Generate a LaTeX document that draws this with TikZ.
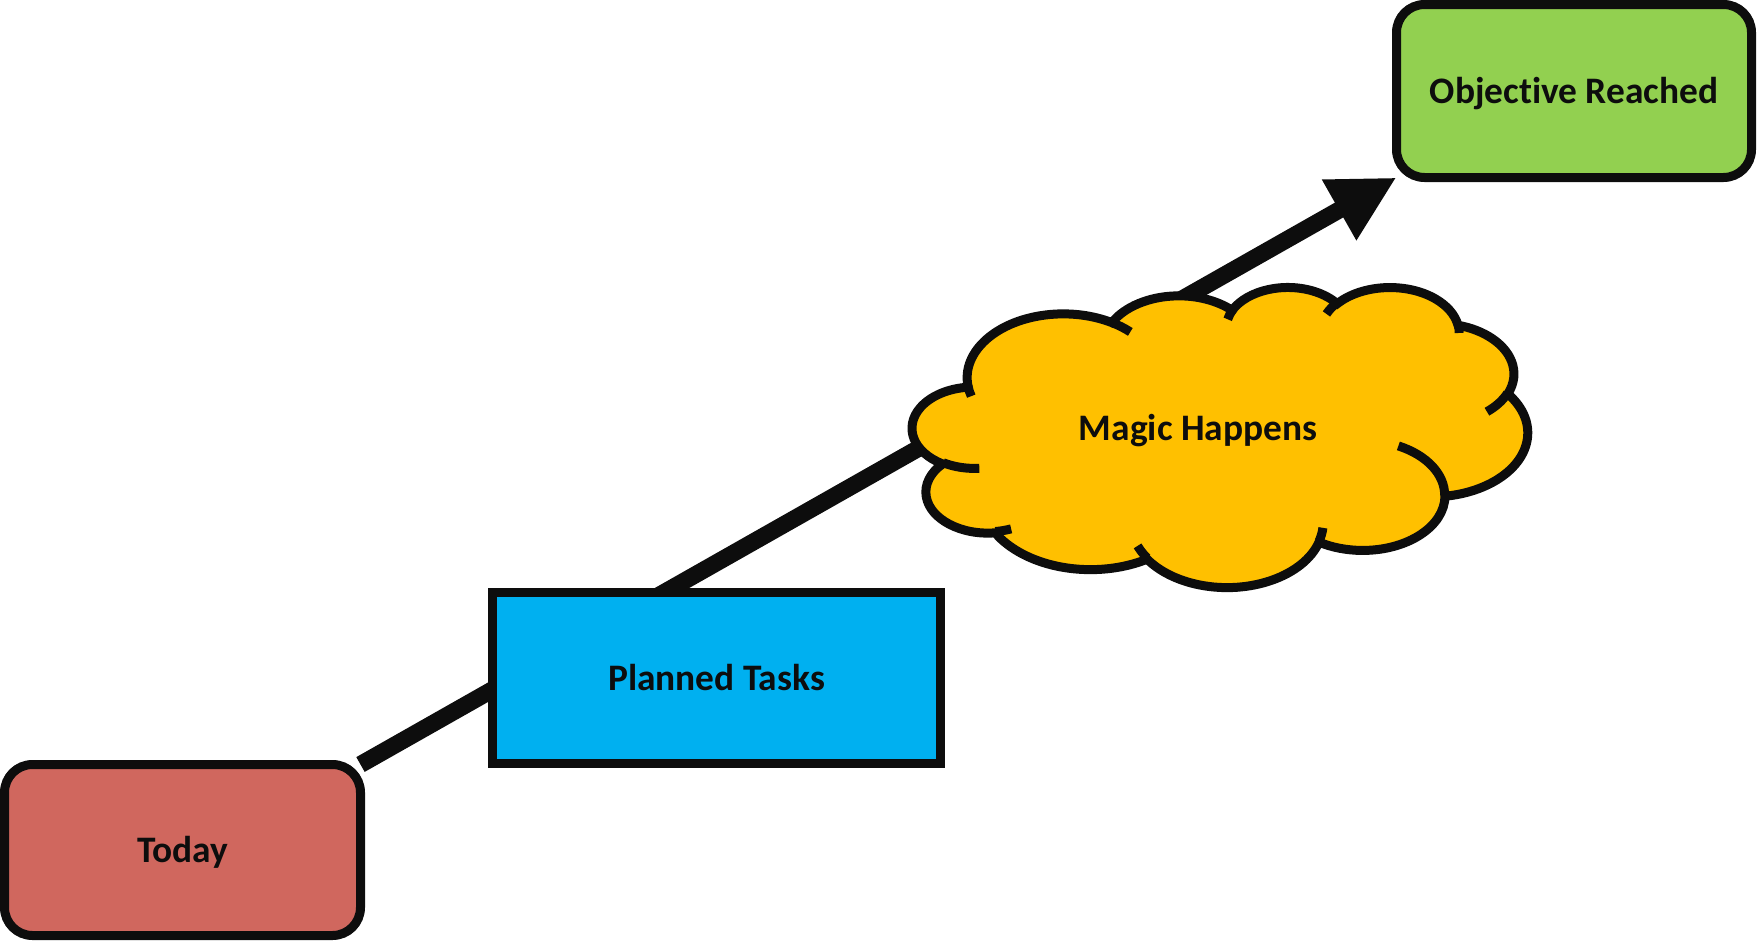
\documentclass[tikz,border=0pt]{standalone}
\usepackage{fontspec}
\setmainfont{Carlito}[Ligatures=CommonOff]
\usetikzlibrary{arrows.meta}
\pgfdeclarelayer{back}
\pgfsetlayers{back,main}
\definecolor{ink}{HTML}{0D0D0D}
\definecolor{todayfill}{RGB}{208,103,94}
\definecolor{planfill}{HTML}{00B0F0}
\definecolor{magicfill}{HTML}{FFC000}
\definecolor{goalfill}{HTML}{92D050}
% visual angle -> parametric angle for an ellipse with radii #1,#2
\pgfmathdeclarefunction{vp}{3}{%
  \begingroup
    \pgfmathparse{atan2((#1)*sin(#3),(#2)*cos(#3))-(#3)}%
    \let\vpdiff\pgfmathresult
    \pgfmathparse{(#3)+\vpdiff-360*round(\vpdiff/360)}%
    \pgfmathsmuggle\pgfmathresult
  \endgroup}
\newcommand\oarc[4]{arc[x radius=#1, y radius=#2, start angle={vp(#1,#2,#3)}, end angle={vp(#1,#2,(#3)+(#4))}]}
\tikzset{
  box/.style={rectangle, draw=ink, line width=4.5pt, outer sep=0pt, inner sep=0pt,
    text=ink, font=\fontsize{18.7pt}{22pt}\selectfont\bfseries,
    text height=12pt, text depth=0pt},
  lbl/.style={text=ink, font=\fontsize{18.7pt}{22pt}\selectfont\bfseries,
    inner sep=0pt, text height=12pt, text depth=0pt},
  cloudfill/.style={fill=magicfill, draw=ink, line width=4.5pt},
  cloudline/.style={draw=ink, line width=4.5pt},
  conn/.style={draw=ink, line width=8.5pt, -{Triangle[length=33pt,width=32.5pt]}}
}
\begin{document}
\begin{tikzpicture}[x=0.5pt, y=-0.5pt]
\useasboundingbox (0,0) rectangle (1757,942);

% boxes
\node[box, fill=todayfill, rounded corners=14pt, minimum width=178pt, minimum height=85.5pt]
  (today) at (182.5,850) {Today};
\node[box, fill=planfill, minimum width=224pt, minimum height=85.5pt]
  (plan) at (716.5,678) {Planned Tasks};
\node[box, fill=goalfill, rounded corners=14pt, minimum width=177.5pt, minimum height=86.5pt]
  (goal) at (1574,91) {Objective Reached};

% cloud
\begin{scope}[shift={(912.5,286.5)}, x=0.711806pt, y=-0.347222pt]
\path[cloudfill] (39.00,143.70)
  \oarc{67.53}{91.90}{-190.48748}{123.78053}
  \oarc{53.33}{72.67}{-144.10238}{89.94523}
  \oarc{43.65}{59.45}{-145.80792}{99.72302}
  \oarc{48.57}{65.95}{-130.98607}{117.24173}
  \oarc{53.33}{72.73}{-78.70888}{109.02692}
  \oarc{67.75}{92.20}{-46.26725}{130.269}
  \oarc{57.85}{78.67}{0.62502}{114.03333}
  \oarc{67.52}{92.15}{22.4516}{115.17255}
  \oarc{77.20}{105.43}{66.24263}{75.71102}
  \oarc{43.60}{59.18}{-274.94208}{146.73557}
  \oarc{43.45}{59.45}{-246.8285}{152.51885}
  -- cycle;
\path[cloudline]
  (46.93,261.77) \oarc{43.45}{59.45}{86.742}{26.4295}
  (69.28,348.99) \oarc{43.60}{59.18}{73.61047}{11.44747}
  (164.78,390.90) \oarc{67.52}{92.15}{137.62415}{14.0811}
  (288.27,347.51) \oarc{67.52}{92.15}{6.45327}{15.99835}
  (341.29,229.54) \oarc{57.85}{78.67}{-70.29235}{70.91737}
  (417.98,153.54) \oarc{53.33}{72.73}{30.31803}{27.7515}
  (383.24,54.26) \oarc{48.57}{65.95}{-13.74433}{14.8589}
  (290.78,39.52) \oarc{48.57}{65.95}{-149.18145}{18.19537}
  (221.41,47.20) \oarc{43.65}{59.45}{-163.49427}{17.68635}
  (140.00,51.92) \oarc{67.53}{91.90}{-66.70695}{12.31935}
  (41.27,157.89) \oarc{67.53}{91.90}{157.65435}{11.85817};
\end{scope}
\node[lbl] (magic) at (1198,428) {Magic Happens};

% connector behind everything
\begin{pgfonlayer}{back}
\draw[conn] (today.north east) -- (goal.south west);
\end{pgfonlayer}
\end{tikzpicture}
\end{document}
